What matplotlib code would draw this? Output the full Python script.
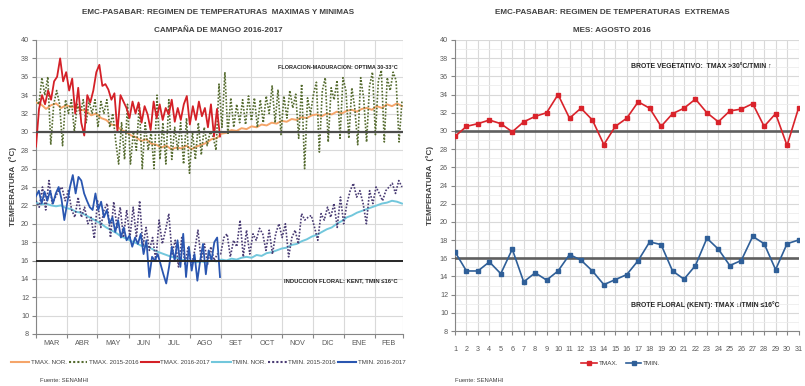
import numpy as np
import matplotlib
matplotlib.use("Agg")
import matplotlib.pyplot as plt
from matplotlib.lines import Line2D
from matplotlib.ticker import MultipleLocator, FixedLocator, NullFormatter
from matplotlib import font_manager

_names = {f.name for f in font_manager.fontManager.ttflist}
_main = 'Liberation Sans Narrow' if 'Liberation Sans Narrow' in _names else 'Liberation Sans'
FAM = [_main, 'DejaVu Sans']
plt.rcParams['font.family'] = FAM
NARROW = _main == 'Liberation Sans Narrow'
k = 1.12 if NARROW else 1.0

# ---------------- data: left chart (campaña 2016-2017) ----------------
months = ["MAR", "ABR", "MAY", "JUN", "JUL", "AGO", "SET", "OCT", "NOV", "DIC", "ENE", "FEB"]
month_days = [31, 30, 31, 30, 31, 31, 30, 31, 30, 31, 31, 28]

tmax_nor = [33.2, 33.0, 32.5, 32.9, 33.1, 32.6, 32.9, 32.7, 32.8, 32.4, 32.3, 31.8, 32.0, 31.5,
            31.3, 30.8, 30.7, 30.2, 30.0, 29.6, 29.4, 29.0, 29.2, 28.7, 28.6, 28.3, 28.5, 28.1,
            28.3, 28.2, 28.5, 28.1, 28.4, 28.6, 28.8, 29.2, 29.3, 29.8, 29.9, 30.2, 30.1, 30.4,
            30.3, 30.6, 30.5, 30.8, 30.7, 31.0, 30.9, 31.2, 31.1, 31.4, 31.3, 31.6, 31.5, 31.8,
            31.9, 31.7, 32.0, 31.9, 32.2, 32.0, 32.3, 32.4, 32.2, 32.5, 32.6, 32.4, 32.8, 32.6,
            33.0, 32.8, 33.1, 32.8]

tmax_1516 = [33.5, 33.0, 35.9, 34.0, 36.0, 28.6, 33.0, 34.5, 33.0, 28.5, 33.5, 32.0, 33.5, 30.0,
             33.0, 32.0, 33.5, 31.0, 33.4, 32.0, 33.5, 30.5, 33.3, 32.0, 33.5, 30.5, 32.0, 29.0,
             26.5, 31.0, 27.0, 33.0, 26.5, 30.0, 28.0, 33.0, 26.0, 31.0, 28.0, 30.0, 26.0, 34.0,
             27.0, 31.0, 26.5, 33.5, 27.0, 30.5, 28.0, 31.0, 26.5, 31.5, 25.5, 30.0, 27.0, 31.0,
             27.5, 30.5, 28.5,
             30.0, 29.5, 28.0, 35.2, 30.5, 36.5, 29.7, 33.7, 30.5, 33.0, 31.0, 33.5, 30.8, 33.9,
             31.2, 33.7, 30.5, 33.5, 31.0, 33.9, 32.0, 35.0, 31.0, 34.6, 29.7, 33.9, 31.5, 34.5,
             32.6, 34.1, 29.3, 35.2, 26.0, 33.7, 31.9, 34.1, 35.4, 27.8, 34.5, 35.9, 28.9, 34.8,
             33.5, 35.6, 29.3, 35.9, 34.5, 29.3, 34.8, 32.6, 28.6, 35.9, 33.7, 28.9, 35.0, 36.5,
             29.7, 35.6, 36.7, 28.9, 35.9, 34.5, 36.5, 35.6, 28.9, 33.4]

tmax_1617 = [28.4, 32.5, 34.0, 33.0, 34.5, 33.5, 35.5, 36.0, 38.0, 35.5, 36.5, 34.5, 35.8, 32.0,
             34.8, 31.0, 29.6, 34.0, 33.2, 34.5, 36.5, 37.3, 35.0, 35.2, 34.6, 33.5, 34.2, 30.0,
             34.0, 33.3, 32.6, 31.5, 33.3, 32.0, 33.2, 31.0, 32.8, 31.9, 30.2, 33.3, 31.5, 33.0,
             31.3, 32.6, 31.9, 33.5, 31.1, 32.6, 31.3, 33.0, 33.9, 30.8, 32.8, 31.3, 33.3, 31.7,
             32.6, 30.5, 33.0, 29.5, 32.5, 29.5]

tmin_nor = [22.3, 22.1, 22.2, 22.0, 21.9, 22.0, 21.7, 21.6, 21.3, 21.2, 20.9, 20.6, 20.3, 20.0,
            19.6, 19.3, 19.0, 18.6, 18.4, 18.1, 17.9, 17.6, 17.6, 17.3, 17.0, 16.8, 16.6, 16.4,
            16.3, 16.1, 16.0, 15.9, 15.8, 15.9, 15.8, 16.0, 15.9, 16.1, 16.0, 16.2, 16.1, 16.3,
            16.4, 16.3, 16.6, 16.5, 16.8, 16.9, 17.1, 17.3, 17.4, 17.7, 17.8, 18.1, 18.3, 18.6,
            18.8, 19.1, 19.4, 19.6, 20.0, 20.3, 20.7, 20.9, 21.2, 21.4, 21.6, 21.8, 22.0, 22.2,
            22.3, 22.5, 22.4, 22.2]

tmin_1516 = [22.5, 21.8, 24.0, 21.5, 24.7, 22.2, 22.9, 23.6, 24.0, 22.5, 23.6, 21.5, 20.7, 22.9,
             20.7, 21.8, 20.0, 20.7, 18.4, 22.5, 19.6, 21.5, 22.2, 18.5, 22.4, 19.6, 21.8, 18.5,
             21.5, 18.5, 21.8, 18.5, 22.5, 17.5, 19.6, 17.1, 18.5, 16.0, 20.4, 17.8, 19.3, 21.1,
             16.7, 18.2, 15.3, 18.5, 15.6, 17.5, 15.3, 17.1, 19.3, 16.0, 17.8, 15.6, 17.5, 16.0,
             16.7,
             16.7, 18.5, 18.9, 16.4, 18.2, 17.5, 20.4, 16.4, 19.3, 16.7, 18.9, 18.2, 19.5, 18.9,
             17.1, 19.3, 16.7, 18.9, 20.0, 18.5, 20.0, 16.4, 18.5, 19.3, 17.8, 21.1, 20.4, 20.7,
             20.9, 19.6, 18.2, 21.1, 20.4, 21.8, 20.7, 22.2, 19.6, 22.9, 20.0, 22.2, 23.6, 24.4,
             22.9, 23.6, 22.2, 20.0, 23.6, 22.2, 24.0, 23.3, 22.5, 23.6, 24.0, 24.4, 23.3, 24.7,
             24.0]

tmin_1617 = [23.0, 23.6, 22.2, 23.5, 22.5, 23.6, 22.2, 23.3, 24.0, 22.7, 20.4, 22.2, 24.0, 25.3,
             23.3, 25.1, 24.7, 23.3, 22.5, 21.8, 21.5, 23.3, 21.5, 22.4, 20.7, 21.5, 20.0, 20.7,
             19.1, 20.4, 18.5, 19.6, 18.2, 18.7, 17.5, 18.5, 17.8, 18.9, 16.7, 18.2, 14.2, 16.4,
             16.0, 16.7, 15.6, 14.5, 13.5, 15.3, 17.5, 16.0, 18.2, 15.3, 18.9, 14.2, 17.5, 14.9,
             16.7, 13.8, 16.0, 17.8, 14.5, 17.1, 16.0, 18.0, 18.5, 14.2]

# ---------------- data: right chart (agosto 2016) ----------------
ago_days = list(range(1, 32))
ago_tmax = [29.4, 30.5, 30.8, 31.2, 30.8, 29.9, 31.0, 31.6, 32.0, 34.0, 31.4, 32.5, 31.2, 28.5,
            30.5, 31.4, 33.2, 32.5, 30.5, 31.9, 32.5, 33.5, 32.0, 31.0, 32.2, 32.4, 33.0, 30.5,
            31.9, 28.4, 32.5]
ago_tmin = [16.7, 14.6, 14.6, 15.6, 14.3, 17.0, 13.4, 14.4, 13.6, 14.6, 16.4, 15.8, 14.6, 13.1,
            13.65, 14.2, 15.75, 17.8, 17.5, 14.6, 13.7, 15.2, 18.2, 17.0, 15.2, 15.75, 18.4, 17.6,
            14.75, 17.6, 18.0]

# ---------------- figure ----------------
W, H = 805, 386
fig = plt.figure(figsize=(W / 100, H / 100), dpi=100)

def fx(px):
    return px / W

def fy(py):
    return 1 - py / H

TXT = '#404040'
GRID = '#d9d9d9'
TICKC = '#595959'

# ---- left axes ----
axL = fig.add_axes([fx(36), fy(334), fx(403) - fx(36), fy(40) - fy(334)])
starts = np.concatenate([[0], np.cumsum(month_days)])
total = starts[-1]

def xs(values, end):
    return np.linspace(0, end, len(values))

end_full = total - 1
end_1617 = starts[6] - 1

C_TXN, C_TX15, C_TX16 = '#f5a56a', '#556b2f', '#d42027'
C_TNN, C_TN15, C_TN16 = '#72c7dc', '#4a3c74', '#2a56b0'
DOT = (0, (1, 1))

axL.plot(xs(tmax_nor, end_full), tmax_nor, color=C_TXN, lw=1.4, zorder=3)
axL.plot(xs(tmax_1516, end_full), tmax_1516, color=C_TX15, lw=1.2, ls=DOT, zorder=3)
axL.plot(xs(tmax_1617, end_1617), tmax_1617, color=C_TX16, lw=1.3, zorder=4)
axL.plot(xs(tmin_nor, end_full), tmin_nor, color=C_TNN, lw=1.4, zorder=3)
axL.plot(xs(tmin_1516, end_full), tmin_1516, color=C_TN15, lw=1.2, ls=DOT, zorder=3)
axL.plot(xs(tmin_1617, end_1617), tmin_1617, color=C_TN16, lw=1.3, zorder=4)

axL.axhline(30, color='#4d4d4d', lw=1.6, zorder=5)
axL.axhline(16, color='#262626', lw=1.4, zorder=5)

axL.set_xlim(0, total)
axL.set_ylim(8, 40)
axL.yaxis.set_major_locator(MultipleLocator(2))
axL.xaxis.set_major_locator(FixedLocator(starts))
axL.xaxis.set_major_formatter(NullFormatter())
axL.xaxis.set_minor_locator(FixedLocator((starts[:-1] + starts[1:]) / 2))
axL.set_xticklabels(months, minor=True)
axL.tick_params(axis='x', which='minor', length=0, labelsize=5.2 * k, labelcolor=TICKC, pad=4)
axL.tick_params(axis='x', which='major', length=3, color='#868686')
axL.tick_params(axis='y', labelsize=5.2 * k, labelcolor=TICKC, length=3, color='#868686', pad=2)
axL.grid(True, which='major', color=GRID, lw=0.8, zorder=0)
for s in ['top', 'right']:
    axL.spines[s].set_visible(False)
for s in ['left', 'bottom']:
    axL.spines[s].set_color('#868686')
axL.set_axisbelow(True)
axL.set_ylabel('TEMPERATURA  (°C)', fontsize=5.8 * k, fontweight='bold', color=TXT, labelpad=3)

axL.text(0.985, 0.905, 'FLORACION-MADURACION: OPTIMA 30-33°C', transform=axL.transAxes,
         ha='right', va='center', fontsize=3.95 * k, fontweight='bold', color='#262626')
axL.text(0.985, 0.18, 'INDUCCION FLORAL: KENT, TMIN ≤16°C', transform=axL.transAxes,
         ha='right', va='center', fontsize=4.2 * k, fontweight='bold', color='#262626')

fig.text(fx(218), fy(12), 'EMC-PASABAR: REGIMEN DE TEMPERATURAS  MAXIMAS Y MINIMAS',
         ha='center', va='center', fontsize=5.9 * k, fontweight='bold', color=TXT)
fig.text(fx(218), fy(30), 'CAMPAÑA DE MANGO 2016-2017',
         ha='center', va='center', fontsize=5.9 * k, fontweight='bold', color=TXT)

handlesL = [
    Line2D([], [], color=C_TXN, lw=1.5),
    Line2D([], [], color=C_TX15, lw=1.5, ls=DOT),
    Line2D([], [], color=C_TX16, lw=1.5),
    Line2D([], [], color=C_TNN, lw=1.5),
    Line2D([], [], color=C_TN15, lw=1.5, ls=DOT),
    Line2D([], [], color=C_TN16, lw=1.5),
]
labelsL = ['TMAX. NOR.', 'TMAX. 2015-2016', 'TMAX. 2016-2017', 'TMIN. NOR.',
           'TMIN. 2015-2016', 'TMIN. 2016-2017']
legL = fig.legend(handlesL, labelsL, loc='center left', bbox_to_anchor=(fx(11), fy(362)),
                  ncol=6, frameon=False, fontsize=4.4 * k, handlelength=3.0, handletextpad=0.25,
                  columnspacing=0.35, borderaxespad=0, borderpad=0)
for t in legL.get_texts():
    t.set_color(TXT)

fig.text(fx(40), fy(380), 'Fuente: SENAMHI', ha='left', va='center', fontsize=4.2 * k, color=TXT)

# ---- right axes ----
x0, x1 = 455, 455 + 30 * 11.45
axR = fig.add_axes([fx(x0), fy(331), fx(x1) - fx(x0), fy(40) - fy(331)])
C_RMAX, C_RMIN = '#d9232b', '#2f5f98'
axR.plot(ago_days, ago_tmax, color=C_RMAX, lw=1.2, marker='s', ms=2.6, zorder=4)
axR.plot(ago_days, ago_tmin, color=C_RMIN, lw=1.2, marker='s', ms=2.6, zorder=4)
axR.axhline(30, color='#5f5f5f', lw=1.9, zorder=3)
axR.axhline(16, color='#5f5f5f', lw=1.9, zorder=3)
axR.set_xlim(1, 31)
axR.set_ylim(8, 40)
axR.set_xticks(ago_days)
axR.yaxis.set_major_locator(MultipleLocator(2))
axR.yaxis.set_minor_locator(MultipleLocator(1))
axR.tick_params(axis='x', labelsize=5.2 * k, labelcolor=TICKC, length=3, color='#868686', pad=8)
axR.tick_params(axis='y', which='major', labelsize=5.2 * k, labelcolor=TICKC, length=3,
                color='#868686', pad=2)
axR.tick_params(axis='y', which='minor', length=0)
axR.grid(True, which='major', color=GRID, lw=0.8, zorder=0)
axR.grid(True, which='minor', axis='y', color='#ececec', lw=0.6, zorder=0)
for s in ['top', 'right']:
    axR.spines[s].set_visible(False)
for s in ['left', 'bottom']:
    axR.spines[s].set_color('#868686')
axR.set_axisbelow(True)
axR.set_ylabel('TEMPERATURA  (°C)', fontsize=5.8 * k, fontweight='bold', color=TXT, labelpad=4)

axR.text(0.923, 0.905, 'BROTE VEGETATIVO:  TMAX >30°C/TMIN ↑', transform=axR.transAxes,
         ha='right', va='center', fontsize=4.95 * k, fontweight='bold', color='#262626')
axR.text(0.946, 0.09, 'BROTE FLORAL (KENT): TMAX ↓/TMIN ≤16°C', transform=axR.transAxes,
         ha='right', va='center', fontsize=4.95 * k, fontweight='bold', color='#262626')

fig.text(fx(612), fy(12), 'EMC-PASABAR: REGIMEN DE TEMPERATURAS  EXTREMAS',
         ha='center', va='center', fontsize=5.9 * k, fontweight='bold', color=TXT)
fig.text(fx(612), fy(30), 'MES: AGOSTO 2016',
         ha='center', va='center', fontsize=5.9 * k, fontweight='bold', color=TXT)

handlesR = [Line2D([], [], color=C_RMAX, lw=1.2, marker='s', ms=2.6),
            Line2D([], [], color=C_RMIN, lw=1.2, marker='s', ms=2.6)]
legR = fig.legend(handlesR, ['TMAX.', 'TMIN.'], loc='center', bbox_to_anchor=(fx(621), fy(363)),
                  ncol=2, frameon=False, fontsize=4.6 * k, handlelength=2.4, handletextpad=0.3,
                  columnspacing=1.2, borderaxespad=0, borderpad=0)
for t in legR.get_texts():
    t.set_color(TXT)

fig.text(fx(455), fy(381), 'Fuente: SENAMHI', ha='left', va='center', fontsize=4.2 * k, color=TXT)

fig.savefig('out.png', dpi=100)
